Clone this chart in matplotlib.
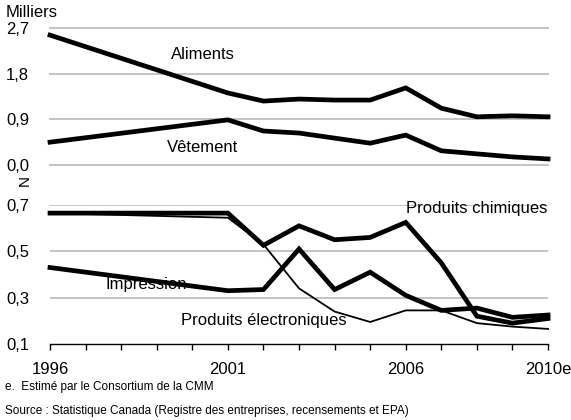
import matplotlib
matplotlib.use("Agg")
import numpy as np
import matplotlib.pyplot as plt

plt.rcParams['font.family'] = ['Liberation Sans', 'DejaVu Sans']

# annees (1997-2000 non disponibles : segment droit entre les recensements)
years = [1996, 2001, 2002, 2003, 2004, 2005, 2006, 2007, 2008, 2009, 2010]

# panneau du haut (milliers)
aliments = [2.56, 1.42, 1.26, 1.30, 1.28, 1.28, 1.52, 1.12, 0.95, 0.97, 0.95]
vetement = [0.45, 0.89, 0.67, 0.63, 0.53, 0.43, 0.59, 0.28, 0.22, 0.16, 0.12]

# panneau du bas (milliers)
chimiques = [0.665, 0.665, 0.526, 0.61, 0.55, 0.56, 0.625, 0.45, 0.22, 0.19, 0.21]
impression = [0.43, 0.33, 0.335, 0.51, 0.335, 0.41, 0.31, 0.245, 0.255, 0.215, 0.225]
electroniques = [0.665, 0.645, 0.53, 0.34, 0.24, 0.195, 0.245, 0.245, 0.19, 0.175, 0.165]

top_ticks = [0.0, 0.9, 1.8, 2.7]
bot_ticks = [0.1, 0.3, 0.5, 0.7]
x_labels = {1996: "1996", 2001: "2001", 2006: "2006", 2010: "2010e"}

grid_col = "#c3c3c3"
thick = 3.4
thin = 1.3


def fmt(v):
    return f"{v:.1f}".replace(".", ",")


fig = plt.figure(figsize=(5.71, 4.2), dpi=100)
ax1 = fig.add_axes([0.0876, 0.6071, 0.8722, 0.3262])
ax2 = fig.add_axes([0.0876, 0.1810, 0.8722, 0.3309])

for ax in (ax1, ax2):
    ax.set_xlim(1996, 2010)
    for s in ax.spines.values():
        s.set_visible(False)
    ax.tick_params(axis="y", length=0, labelsize=12, pad=15)

# haut
ax1.set_ylim(0, 2.7)
ax1.set_yticks(top_ticks)
ax1.set_yticklabels([fmt(v) for v in top_ticks])
ax1.set_xticks([])
for v in top_ticks:
    ax1.axhline(v, color=grid_col, lw=1.4, zorder=0, clip_on=False)
ax1.plot(years, aliments, color="black", lw=thick, solid_joinstyle="miter", clip_on=False)
ax1.plot(years, vetement, color="black", lw=thick, solid_joinstyle="miter", clip_on=False)
ax1.text(2000.3, 2.17, "Aliments", fontsize=12, ha="center", va="center")
ax1.text(2000.3, 0.35, "Vêtement", fontsize=12, ha="center", va="center")

# bas
ax2.set_ylim(0.1, 0.7)
ax2.set_yticks(bot_ticks)
ax2.set_yticklabels([fmt(v) for v in bot_ticks])
for v in bot_ticks[1:]:
    ax2.axhline(v, color=grid_col, lw=1.4, zorder=0)
ax2.spines["bottom"].set_visible(True)
ax2.spines["bottom"].set_linewidth(1.0)
all_years = list(range(1996, 2011))
ax2.set_xticks(all_years)
ax2.set_xticklabels([x_labels.get(y, "") for y in all_years])
ax2.tick_params(axis="x", direction="out", length=4, width=1.0, labelsize=12, pad=9)

ax2.plot(years, electroniques, color="black", lw=thin, clip_on=False)
ax2.plot(years, chimiques, color="black", lw=thick, solid_joinstyle="miter", clip_on=False)
ax2.plot(years, impression, color="black", lw=thick, solid_joinstyle="miter", clip_on=False)
ax2.text(2008.0, 0.683, "Produits chimiques", fontsize=12, ha="center", va="center")
ax2.text(1998.7, 0.357, "Impression", fontsize=12, ha="center", va="center")
ax2.text(2002.0, 0.20, "Produits électroniques", fontsize=12, ha="center", va="center")

# textes hors graphique
fig.text(0.009, 0.971, "Milliers", fontsize=12, ha="left", va="center")
fig.text(0.044, 0.571, "N", fontsize=11, rotation=90, ha="center", va="center")
fig.text(0.009, 0.079, "e.  Estimé par le Consortium de la CMM", fontsize=8.5, ha="left", va="center")
fig.text(0.009, 0.021, "Source : Statistique Canada (Registre des entreprises, recensements et EPA)",
         fontsize=8.5, ha="left", va="center")

fig.savefig("out.png", dpi=100)
